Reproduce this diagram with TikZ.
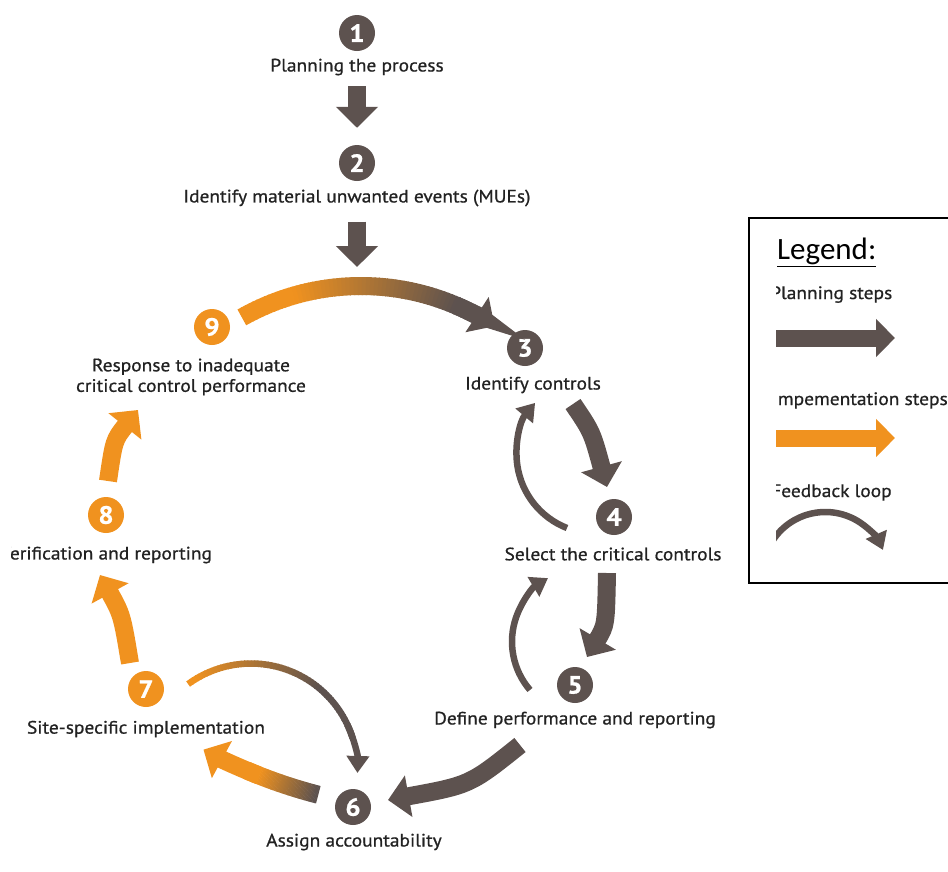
\documentclass[tikz,border=0pt]{standalone}
\usepackage{fontspec}
\setmainfont{PT Sans}[FakeStretch=1.08, FakeBold=0.8]
\newfontfamily\legendfont{Carlito}
\usetikzlibrary{arrows.meta,calc}

\definecolor{stepdark}{HTML}{5D524F}
\definecolor{steporange}{HTML}{F0921F}
\definecolor{labelink}{HTML}{222222}

\tikzset{
  num/.style={circle, fill=#1, text=white, minimum size=36pt, inner sep=0pt,
    font=\fontsize{25}{25}\selectfont\bfseries},
  lbl/.style={font=\fontsize{18}{20.5}\selectfont, text=labelink, align=center, inner sep=0pt},
  legtext/.style={font=\fontsize{18}{20}\selectfont, text=labelink, inner sep=0pt},
  bigarrow/.style={draw=#1, line width=18pt, -{Triangle[width=41pt,length=21pt]}},
  fbarrow/.style={draw=#1, line width=6.5pt, -{Triangle[width=22pt,length=17pt]}},
  legarrow/.style={draw=#1, line width=17pt, -{Triangle[width=37pt,length=19pt]}},
}

% circular arc drawn in short pieces whose colour runs from #7 to #8
% #1 centre, #2 radius, #3/#4 start/end angle, #5/#6 angles where the blend starts/ends, #9 width
\newcommand\gradarc[9]{%
  \foreach \k in {0,...,59}{%
    \pgfmathsetmacro\ta{#3+(#4-#3)*\k/60}%
    \pgfmathsetmacro\tb{#3+(#4-#3)*(\k+1.3)/60}%
    \pgfmathsetmacro\tm{#3+(#4-#3)*(\k+0.5)/60}%
    \pgfmathsetmacro\mix{100*max(0,min(1,(\tm-(#5))/((#6)-(#5))))}%
    \draw[line width=#9, draw=#8!\mix!#7] ($(#1)+(\ta:#2)$) arc[start angle=\ta, end angle=\tb, radius=#2];
  }%
}

\begin{document}
\begin{tikzpicture}[x=1pt,y=-1pt]
\useasboundingbox (0,0) rectangle (948,871);
\clip (0,0) rectangle (948,871);

% numbered step markers
\node[num=stepdark]   (n1) at (357,33)  {1};
\node[num=stepdark]   (n2) at (357,163) {2};
\node[num=stepdark]   (n3) at (525,348) {3};
\node[num=stepdark]   (n4) at (614,517) {4};
\node[num=stepdark]   (n5) at (575,685) {5};
\node[num=stepdark]   (n6) at (353,807) {6};
\node[num=steporange] (n7) at (146,689) {7};
\node[num=steporange] (n8) at (106,515) {8};
\node[num=steporange] (n9) at (212,327) {9};

% step titles
\node[lbl] (t1) at (357,67)  {Planning the process};
\node[lbl] (t2) at (357,198) {Identify material unwanted events (MUEs)};
\node[lbl] (t3) at (533,385) {Identify controls};
\node[lbl] (t4) at (613,554) {Select the critical controls};
\node[lbl] (t5) at (575,720) {Define performance and reporting};
\node[lbl] (t6) at (354,842) {Assign accountability};
\node[lbl] (t7) at (146,729) {Site-specific implementation};
\node[lbl] (t9) at (191,377) {Response to inadequate\\critical control performance};
\begin{scope}
  \clip (11,535) rectangle (300,580);
  \node[lbl] (t8) at (106,555) {Verification and reporting};
\end{scope}

% entry into the cycle
\coordinate (entry) at (357,267);
\draw[bigarrow=stepdark, shorten <=11pt, shorten >=17pt] (t1.south) -- (n2.north);
\draw[bigarrow=stepdark, shorten <=15pt] (t2.south) -- (entry);

% 9 -> 3 (implementation into planning)
\coordinate (c93) at (361,528);
\gradarc{c93}{242}{-119.5}{-62}{-106}{-67}{steporange}{stepdark}{18pt}
\draw[bigarrow=stepdark] ($(c93)+(-67:242)$) arc[start angle=-67, end angle=-56.5, radius=242];

% planning steps around the right side
\coordinate (a34s) at (573,404);  \coordinate (a34e) at (607,487);
\coordinate (a45s) at (607,573);  \coordinate (a45e) at (587,657);
\coordinate (a56s) at (520,745);  \coordinate (a56e) at (388,800);
\draw[bigarrow=stepdark] (a34s) .. controls (592,432) .. (a34e);
\draw[bigarrow=stepdark] (a45s) .. controls (606,625) .. (a45e);
\draw[bigarrow=stepdark] (a56s) .. controls (470,785) .. (a56e);

% feedback loops on the planning side
\coordinate (c43) at (596,454);
\coordinate (c54) at (586,641.6);
\draw[fbarrow=stepdark] ($(c43)+(111.4:79.5)$) arc[start angle=111.4, end angle=220, radius=79.5];
\draw[fbarrow=stepdark] ($(c54)+(139.2:74)$) arc[start angle=139.2, end angle=239.1, radius=74];

% 6 -> 7
\coordinate (c67) at (446,301);
\gradarc{c67}{510}{104.5}{113}{104.8}{111.5}{stepdark}{steporange}{18pt}
\draw[bigarrow=steporange] ($(c67)+(111.5:510)$) arc[start angle=111.5, end angle=118.4, radius=510];

% feedback 7 -> 6
\coordinate (c76) at (251,770);
\gradarc{c76}{106.5}{-126.2}{-18}{-122}{-50}{steporange}{stepdark}{6.5pt}
\draw[fbarrow=stepdark] ($(c76)+(-25:106.5)$) arc[start angle=-25, end angle=1.6, radius=106.5];

% implementation steps on the left side
\coordinate (a78s) at (130,663);  \coordinate (a78e) at (100,575);
\coordinate (a89s) at (108,481);  \coordinate (a89e) at (138,410);
\draw[bigarrow=steporange] (a78s) .. controls (122,615) .. (a78e);
\draw[bigarrow=steporange] (a89s) .. controls (114,440) .. (a89e);

% legend
\draw[line width=1.5pt] (749,218) rectangle (960,583);
\node[anchor=base west, inner sep=0pt, font=\legendfont\fontsize{31}{31}\selectfont] (legtitle) at (777,259) {\underline{Legend:}};
\begin{scope}
  \clip (776,272) rectangle (948,578);
  \node[legtext, anchor=base west] (lg1) at (770,299) {Planning steps};
  \node[legtext, anchor=base west] (lg2) at (772,405) {Impementation steps};
  \node[legtext, anchor=base west] (lg3) at (771,497) {Feedback loop};
  \coordinate (l1s) at (770,338); \coordinate (l1e) at (895,338);
  \coordinate (l2s) at (770,438); \coordinate (l2e) at (895,438);
  \coordinate (cl3) at (825.3,574.8);
  \draw[legarrow=stepdark] (l1s) -- (l1e);
  \draw[legarrow=steporange] (l2s) -- (l2e);
  \draw[fbarrow=stepdark] ($(cl3)+(-146.4:62.8)$) arc[start angle=-146.4, end angle=-23.3, radius=62.8];
\end{scope}
\end{tikzpicture}
\end{document}
